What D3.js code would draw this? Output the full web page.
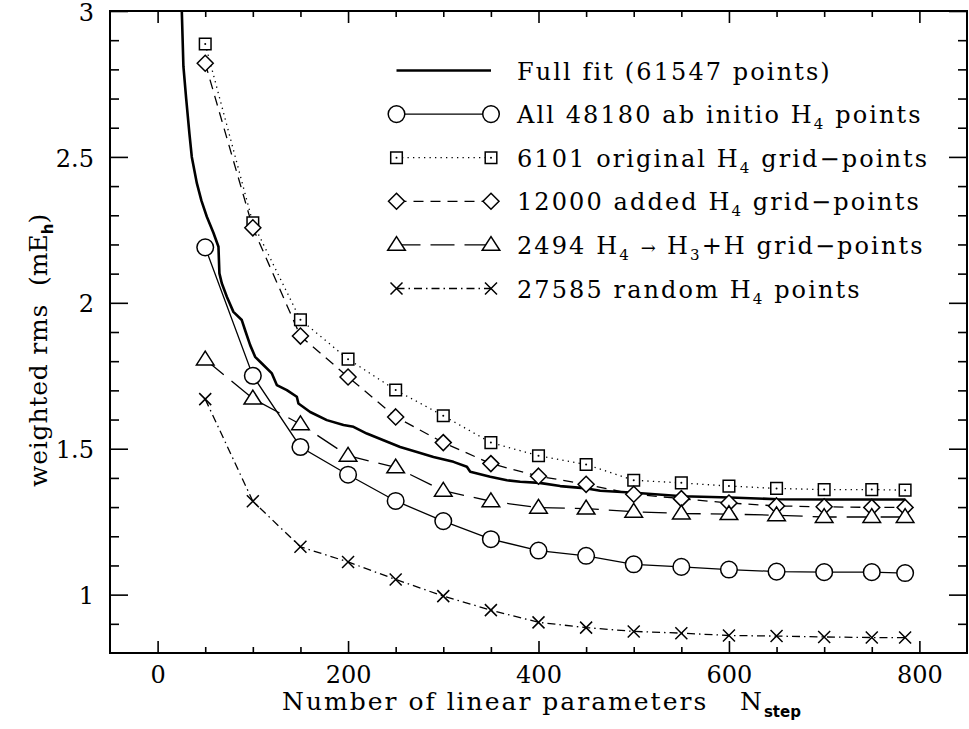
<!DOCTYPE html>
<html>
<head>
<meta charset="utf-8">
<script src="https://cdn.jsdelivr.net/npm/d3@7"></script>
<style>
  body { margin: 0; background: #fff; }
  svg { display: block; }
  text { font-family: "DejaVu Serif", serif; fill: #000; }
</style>
</head>
<body>
<svg id="chart" width="969" height="729"></svg>
<script>
// ---- data ------------------------------------------------------------
// number of linear parameters at which each subset was fitted
const nSteps = [50, 100, 150, 200, 250, 300, 350, 400, 450, 500, 550, 600, 650, 700, 750, 785];

// weighted rms (mEh) of each subset
const allAbInitio   = [2.190, 1.750, 1.506, 1.411, 1.321, 1.252, 1.190, 1.151, 1.133, 1.104, 1.095, 1.086, 1.079, 1.077, 1.077, 1.074];
const originalGrid  = [2.887, 2.274, 1.942, 1.807, 1.701, 1.613, 1.521, 1.476, 1.446, 1.392, 1.383, 1.372, 1.364, 1.360, 1.360, 1.358];
const addedGrid     = [2.821, 2.257, 1.886, 1.746, 1.609, 1.521, 1.449, 1.406, 1.378, 1.344, 1.329, 1.314, 1.304, 1.301, 1.299, 1.299];
const dissocGrid    = [1.806, 1.672, 1.584, 1.476, 1.436, 1.356, 1.320, 1.298, 1.295, 1.284, 1.278, 1.276, 1.272, 1.266, 1.266, 1.266];
const randomPoints  = [1.670, 1.320, 1.164, 1.112, 1.052, 0.995, 0.947, 0.905, 0.887, 0.874, 0.868, 0.860, 0.858, 0.855, 0.853, 0.853];

// full fit, traced as a continuous curve
const fullFitN   = [24, 25.4, 27.1, 30, 33.4, 35.9, 41.2, 46, 51.7, 58.6, 63.9, 64.9, 67.4, 72.7, 79.6, 88.4, 91.9, 97.2,
                    102.4, 109.5, 120, 125.2, 135.7, 146.2, 147.9, 160.2, 177.7, 195.2, 205.7, 219.7, 237.2, 254.7,
                    272.3, 289.7, 310.7, 324.8, 328.3, 349.3, 366.8, 380.8, 401, 422.8, 450.8, 464.8, 500.8, 551,
                    601.4, 651.5, 702, 752, 785];
const fullFitRms = [3.15, 3.00, 2.81, 2.70, 2.58, 2.50, 2.41, 2.35, 2.295, 2.240, 2.192, 2.101, 2.067, 2.021, 1.969, 1.941, 1.906, 1.855,
                    1.815, 1.792, 1.758, 1.718, 1.701, 1.678, 1.655, 1.626, 1.598, 1.581, 1.575, 1.552, 1.529, 1.506,
                    1.489, 1.472, 1.455, 1.438, 1.421, 1.404, 1.392, 1.387, 1.383, 1.372, 1.364, 1.356, 1.349, 1.337,
                    1.333, 1.327, 1.326, 1.326, 1.326];

// legend labels (_{..} marks a subscript)
const legendLabels = [
  "Full fit (61547 points)",
  "All 48180 ab initio H_{4} points",
  "6101 original H_{4} grid\u2212points",
  "12000 added H_{4} grid\u2212points",
  "2494 H_{4} \u2192 H_{3}+H grid\u2212points",
  "27585 random H_{4} points"
];

// axis ticks
const xMajor = [0, 200, 400, 600, 800];
const xMinor = [50, 100, 150, 250, 300, 350, 450, 500, 550, 650, 700, 750];
const yMajor = [1, 1.5, 2, 2.5, 3];
const yMinor = [0.9, 1.1, 1.2, 1.3, 1.4, 1.6, 1.7, 1.8, 1.9, 2.1, 2.2, 2.3, 2.4, 2.6, 2.7, 2.8, 2.9];

// ---- layout ----------------------------------------------------------
const W = 969, H = 729;
const margin = { left: 110, top: 11, right: 2, bottom: 76 };
const svg = d3.select("#chart");

const x = d3.scaleLinear().domain([-50, 850]).range([margin.left, W - margin.right]);
const y = d3.scaleLinear().domain([0.8, 3]).range([H - margin.bottom, margin.top]);

svg.append("defs").append("clipPath").attr("id", "plotClip")
  .append("rect")
  .attr("x", x.range()[0]).attr("y", y.range()[1])
  .attr("width", x.range()[1] - x.range()[0])
  .attr("height", y.range()[0] - y.range()[1]);

// ---- markers ---------------------------------------------------------
const markerPaths = {
  circle:   r => `M${r},0A${r},${r} 0 1,1 ${-r},0A${r},${r} 0 1,1 ${r},0Z`,
  square:   s => `M${-s},${-s}H${s}V${s}H${-s}Z`,
  diamond:  s => `M0,${-s}L${s},0L0,${s}L${-s},0Z`,
  triangle: s => `M0,${-s * 0.95}L${s},${s * 0.62}L${-s},${s * 0.62}Z`,
  cross:    s => `M${-s},${-s}L${s},${s}M${-s},${s}L${s},${-s}`
};
const markerSize = { circle: 8.3, square: 5.8, diamond: 8, triangle: 8.8, cross: 6 };

function drawMarker(g, type, cx, cy) {
  g.append("path")
    .attr("transform", `translate(${cx},${cy})`)
    .attr("d", markerPaths[type](markerSize[type]))
    .attr("fill", type === "cross" ? "none" : "#fff")
    .attr("stroke", "#000")
    .attr("stroke-width", 1.5);
  if (type === "square") {
    g.append("circle").attr("cx", cx).attr("cy", cy).attr("r", 1).attr("fill", "#000");
  }
}

// ---- series ----------------------------------------------------------
const series = [
  { values: allAbInitio,  marker: "circle",   dash: null },
  { values: originalGrid, marker: "square",   dash: "1.3,4.2" },
  { values: addedGrid,    marker: "diamond",  dash: "10,7" },
  { values: dissocGrid,   marker: "triangle", dash: "24,10" },
  { values: randomPoints, marker: "cross",    dash: "8,4,1.5,4" }
];

const line = d3.line().x(d => x(d[0])).y(d => y(d[1]));
const plot = svg.append("g").attr("clip-path", "url(#plotClip)");

// full fit curve
plot.append("path")
  .datum(d3.zip(fullFitN, fullFitRms))
  .attr("d", line)
  .attr("fill", "none")
  .attr("stroke", "#000")
  .attr("stroke-width", 2.6)
  .attr("stroke-linejoin", "round");

// subset curves
series.forEach(s => {
  const pts = d3.zip(nSteps, s.values);
  plot.append("path")
    .datum(pts)
    .attr("d", line)
    .attr("fill", "none")
    .attr("stroke", "#000")
    .attr("stroke-width", 1.3)
    .attr("stroke-dasharray", s.dash);
});
series.forEach(s => {
  const g = plot.append("g");
  d3.zip(nSteps, s.values).forEach(d => drawMarker(g, s.marker, x(d[0]), y(d[1])));
});

// ---- axes ------------------------------------------------------------
const tickStroke = 1.6;
function styleAxis(g) {
  g.select(".domain").remove();
  g.selectAll(".tick line").attr("stroke", "#000").attr("stroke-width", tickStroke);
  g.selectAll(".tick text").style("font-size", "24px").attr("fill", "#000");
}
const xBottom = y.range()[0], xTop = y.range()[1];
const yLeft = x.range()[0], yRight = x.range()[1];

svg.append("g").attr("transform", `translate(0,${xBottom})`)
  .call(d3.axisBottom(x).tickValues(xMajor).tickSize(-12).tickSizeOuter(0).tickPadding(13).tickFormat(d3.format("d")))
  .call(styleAxis);
svg.append("g").attr("transform", `translate(0,${xBottom})`)
  .call(d3.axisBottom(x).tickValues(xMinor).tickSize(-6).tickSizeOuter(0).tickFormat(""))
  .call(styleAxis);
svg.append("g").attr("transform", `translate(0,${xTop})`)
  .call(d3.axisTop(x).tickValues(xMajor).tickSize(-12).tickSizeOuter(0).tickFormat(""))
  .call(styleAxis);
svg.append("g").attr("transform", `translate(0,${xTop})`)
  .call(d3.axisTop(x).tickValues(xMinor).tickSize(-6).tickSizeOuter(0).tickFormat(""))
  .call(styleAxis);

svg.append("g").attr("transform", `translate(${yLeft},0)`)
  .call(d3.axisLeft(y).tickValues(yMajor).tickSize(-18).tickSizeOuter(0).tickPadding(16).tickFormat(d => String(d)))
  .call(styleAxis)
  .call(g => g.selectAll(".tick text").attr("dy", "0.38em"));
svg.append("g").attr("transform", `translate(${yLeft},0)`)
  .call(d3.axisLeft(y).tickValues(yMinor).tickSize(-9).tickSizeOuter(0).tickFormat(""))
  .call(styleAxis);
svg.append("g").attr("transform", `translate(${yRight},0)`)
  .call(d3.axisRight(y).tickValues(yMajor).tickSize(-18).tickSizeOuter(0).tickFormat(""))
  .call(styleAxis);
svg.append("g").attr("transform", `translate(${yRight},0)`)
  .call(d3.axisRight(y).tickValues(yMinor).tickSize(-9).tickSizeOuter(0).tickFormat(""))
  .call(styleAxis);

// frame
svg.append("rect")
  .attr("x", yLeft).attr("y", xTop)
  .attr("width", yRight - yLeft).attr("height", xBottom - xTop)
  .attr("fill", "none").attr("stroke", "#000").attr("stroke-width", 2);

// ---- axis titles -----------------------------------------------------
const xTitle = svg.append("text")
  .attr("x", 282).attr("y", 710)
  .style("font-size", "25px").style("letter-spacing", "2px");
xTitle.append("tspan").text("Number of linear parameters");
xTitle.append("tspan").attr("x", 740).text("N");
xTitle.append("tspan").attr("dy", 7).style("font-size", "15px").style("letter-spacing", "0px")
  .style("font-family", "'DejaVu Sans', sans-serif").style("font-weight", "bold").text("step");

const yTitle = svg.append("text")
  .attr("transform", "translate(47,487) rotate(-90)")
  .style("font-size", "25px").style("letter-spacing", "0.8px");
yTitle.append("tspan").text("weighted rms");
yTitle.append("tspan").attr("x", 201).style("letter-spacing", "0px").text("(mE");
yTitle.append("tspan").attr("dy", 6).style("font-size", "15px").style("letter-spacing", "0px")
  .style("font-family", "'DejaVu Sans', sans-serif").style("font-weight", "bold").text("h");
yTitle.append("tspan").attr("dy", -6).style("letter-spacing", "0px").text(")");

// ---- legend ----------------------------------------------------------
const legend = svg.append("g");
const legTop = 70.5, legGap = 43.6, legX0 = 396.5, legX1 = 491, legTextX = 517;

function addRichText(t, label) {
  const parts = label.split(/(_\{[^}]*\}|\u2192)/).filter(p => p.length);
  let shifted = false;
  parts.forEach(p => {
    const m = p.match(/^_\{([^}]*)\}$/);
    if (m) {
      t.append("tspan").attr("dy", 6).style("font-size", "15px").text(m[1]);
      shifted = true;
      return;
    }
    const ts = t.append("tspan").text(p);
    if (shifted) { ts.attr("dy", -6); shifted = false; }
    if (p === "\u2192") ts.style("font-size", "18px").style("letter-spacing", "1.5px");
  });
}

legendLabels.forEach((label, i) => {
  const ly = legTop + i * legGap;
  const row = legend.append("g");
  if (i === 0) {
    row.append("line").attr("x1", legX0).attr("x2", legX1).attr("y1", ly).attr("y2", ly)
      .attr("stroke", "#000").attr("stroke-width", 2.6);
  } else {
    const s = series[i - 1];
    row.append("line").attr("x1", legX0).attr("x2", legX1).attr("y1", ly).attr("y2", ly)
      .attr("stroke", "#000").attr("stroke-width", 1.3).attr("stroke-dasharray", s.dash);
    drawMarker(row, s.marker, legX0, ly);
    drawMarker(row, s.marker, legX1, ly);
  }
  const t = row.append("text").attr("x", legTextX).attr("y", ly + 9)
    .style("font-size", "24px").style("letter-spacing", "2.1px").attr("xml:space", "preserve");
  addRichText(t, label);
});
</script>
</body>
</html>
